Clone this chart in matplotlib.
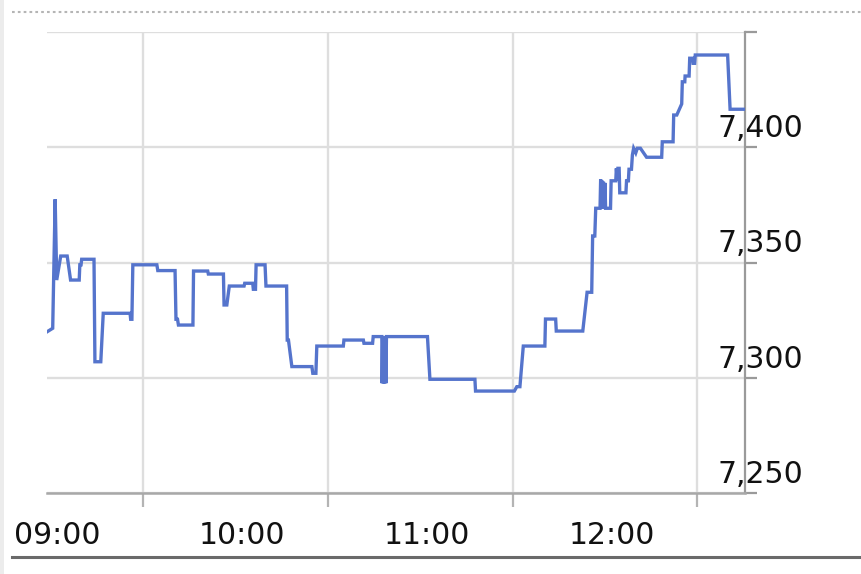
import matplotlib
matplotlib.use("Agg")
import matplotlib.pyplot as plt
import matplotlib.transforms as mtransforms
from matplotlib.lines import Line2D
from matplotlib.patches import Rectangle

# minutes after 09:00 and price
minutes = [-1.0, 0.8, 1.6, 2.1, 3.4, 5.5, 6.6, 9.4, 9.6, 10.0, 10.2, 14.2, 14.5, 16.4,
           17.2, 25.9, 26.1, 26.5, 26.8, 34.6, 34.9, 40.5, 40.8, 41.3, 41.6, 46.3,
           46.5, 51.1, 51.3, 56.2, 56.4, 57.3, 58.1, 62.9, 63.1, 65.7, 65.9, 66.6,
           66.8, 69.7, 70.0, 76.7, 76.9, 77.3, 78.4, 84.9, 85.2, 86.2, 86.5, 95.1,
           95.3, 101.6, 101.8, 104.6, 104.8, 107.6, 107.7, 107.9, 108.1, 108.3,
           108.5, 108.7, 108.9, 109.1, 122.4, 123.2, 137.8, 138.0, 150.6, 151.4,
           152.4, 153.5, 160.5, 160.7, 164.0, 164.2, 172.8, 174.2, 175.7, 176.0,
           176.7, 177.0, 178.4, 178.6, 178.8, 179.0, 179.2, 179.5, 179.7, 180.0,
           180.2, 181.8, 182.0, 183.5, 183.7, 184.0, 184.2, 184.6, 184.8, 186.8,
           187.0, 187.6, 187.8, 188.6, 188.9, 189.3, 190.0, 190.5, 191.5, 193.5,
           198.4, 198.6, 202.1, 202.3, 203.3, 204.9, 205.1, 205.9, 206.0, 207.3,
           207.5, 208.4, 208.6, 209.1, 209.3, 219.8, 220.6, 225.4]
prices = [7320.0, 7321.5, 7377.4, 7342.4, 7352.8, 7352.8, 7342.4, 7342.4, 7349.0, 7349.0,
          7351.4, 7351.4, 7307.0, 7307.0, 7328.0, 7328.0, 7325.4, 7325.4, 7349.0,
          7349.0, 7346.5, 7346.5, 7325.4, 7325.4, 7322.9, 7322.9, 7346.3, 7346.3,
          7345.0, 7345.0, 7331.6, 7331.6, 7339.8, 7339.8, 7341.0, 7341.0, 7338.4,
          7338.4, 7349.0, 7349.0, 7339.8, 7339.8, 7316.4, 7316.4, 7304.9, 7304.9,
          7302.0, 7302.0, 7313.8, 7313.8, 7316.4, 7316.4, 7315.0, 7315.0, 7317.9,
          7317.9, 7297.7, 7317.9, 7297.7, 7317.9, 7297.7, 7317.9, 7297.7, 7317.9,
          7317.9, 7299.4, 7299.4, 7294.3, 7294.3, 7296.2, 7296.2, 7313.8, 7313.8,
          7325.5, 7325.5, 7320.3, 7320.3, 7337.1, 7337.1, 7361.5, 7361.5, 7373.5,
          7373.5, 7386.0, 7373.5, 7385.5, 7373.5, 7385.0, 7373.5, 7384.5, 7373.5,
          7373.5, 7385.4, 7385.4, 7390.8, 7385.4, 7390.8, 7390.8, 7380.2, 7380.2,
          7385.4, 7385.4, 7390.4, 7390.4, 7396.6, 7399.5, 7397.5, 7399.5, 7399.5,
          7395.6, 7395.6, 7402.3, 7402.3, 7413.9, 7413.9, 7418.7, 7428.3, 7428.3,
          7430.8, 7430.8, 7438.5, 7438.5, 7436.3, 7436.3, 7439.9, 7439.9, 7416.4,
          7416.4]

hour_ticks = [0, 60, 120, 180]
hour_labels = ["09:00", "10:00", "11:00", "12:00"]
grid_x = [30, 90, 150, 210]
price_ticks = [7250, 7300, 7350, 7400, 7450]
price_labels = ["7,250", "7,300", "7,350", "7,400", ""]

plt.rcParams['font.family'] = ['DejaVu Sans']

fig = plt.figure(figsize=(8.62, 5.74), dpi=100)
ax = fig.add_axes([47 / 862, 1 - 493.3 / 574, (745.5 - 47) / 862, (493.3 - 31.7) / 574])

ax.plot(minutes, prices, color="#5574cc", lw=2.4, solid_joinstyle="miter", zorder=3)

ax.set_xlim(-1.05, 225.6)
ax.set_ylim(7250, 7450)

for s in ["left", "top"]:
    ax.spines[s].set_visible(False)
ax.spines["right"].set_color("#9a9a9a")
ax.spines["right"].set_linewidth(1.6)
ax.spines["bottom"].set_color("#a8a8a8")
ax.spines["bottom"].set_linewidth(1.8)

ax.yaxis.tick_right()
ax.set_yticks(price_ticks)
ax.set_yticklabels(price_labels)
ax.tick_params(axis="y", which="major", direction="out", length=8.6, width=1.6,
               color="#9a9a9a", pad=32.8, labelsize=21.5, labelcolor="#111111")
ax.grid(axis="y", color="#dedede", lw=1.7, zorder=0)

ax.set_xticks(hour_ticks)
ax.set_xticklabels(hour_labels)
ax.set_xticks(grid_x, minor=True)
ax.tick_params(axis="x", which="major", length=0, pad=20, labelsize=21.5,
               labelcolor="#111111")
ax.tick_params(axis="x", which="minor", direction="out", length=10, width=1.6,
               color="#b4b4b4")
ax.grid(axis="x", which="minor", color="#dedede", lw=1.7, zorder=0)
ax.set_axisbelow(True)

# right tick labels sit above their grid lines, right aligned
up = mtransforms.ScaledTranslation(0, 10 / 100, fig.dpi_scale_trans)
for lab in ax.get_yticklabels():
    lab.set_horizontalalignment("right")
    lab.set_verticalalignment("baseline")
    lab.set_transform(lab.get_transform() + up)
right = mtransforms.ScaledTranslation(7 / 100, 0, fig.dpi_scale_trans)
for lab in ax.get_xticklabels():
    lab.set_transform(lab.get_transform() + right)

# page decorations
fig.add_artist(Rectangle((0, 0), 4 / 862, 1, transform=fig.transFigure,
                         color="#ececec", lw=0))
fig.add_artist(Line2D([12 / 862, 1], [1 - 12 / 574, 1 - 12 / 574], transform=fig.transFigure,
                      color="#b5b5b5", lw=1.5, linestyle=(0, (1.3, 1.5))))
fig.add_artist(Line2D([12 / 862, 859 / 862], [1 - 557 / 574, 1 - 557 / 574],
                      transform=fig.transFigure, color="#6a6a6a", lw=2.2))

fig.savefig("out.png", dpi=100, facecolor="white")
